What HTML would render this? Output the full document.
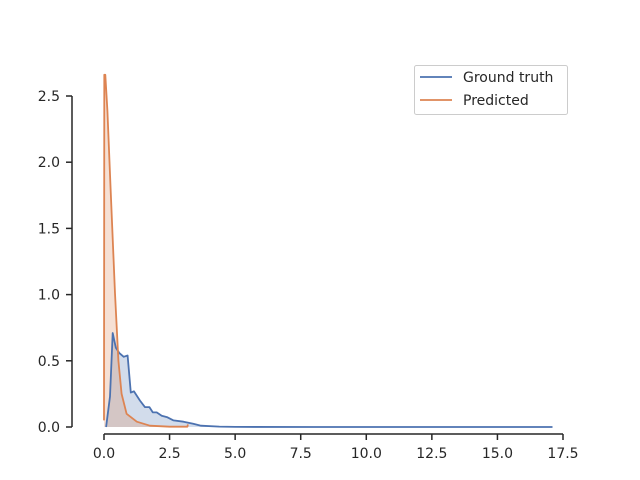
<!DOCTYPE html>
<html><head><meta charset="utf-8"><style>
body{margin:0;background:#fff}
svg{display:block;font-family:"DejaVu Sans","Liberation Sans",sans-serif}
</style></head><body>
<svg id="chart" width="640" height="480" xmlns="http://www.w3.org/2000/svg">
<g id="fills"></g>
<g id="lines"></g>
<g id="axes"></g>
<g>
<rect x="414.5" y="65.5" width="153" height="49" rx="2" fill="#fff" fill-opacity="0.8" stroke="#ccc"/>
<line x1="420" y1="77" x2="452" y2="77" stroke="#4c72b0" stroke-width="1.8"/>
<text x="463" y="82" font-size="14" fill="#262626">Ground truth</text>
<line x1="420" y1="100" x2="452" y2="100" stroke="#dd8452" stroke-width="1.8"/>
<text x="463" y="105" font-size="14" fill="#262626">Predicted</text>
</g>
</svg>
<script>
const truthX=[0.08,0.23,0.33,0.45,0.58,0.75,0.9,1.02,1.14,1.37,1.56,1.73,1.86,2.01,2.2,2.4,2.65,3.03,3.4,3.7,4.4,5,8,12,17.1];
const truthY=[0,0.23,0.71,0.6,0.56,0.53,0.54,0.26,0.27,0.2,0.15,0.15,0.11,0.11,0.085,0.075,0.05,0.04,0.025,0.01,0.003,0.001,0,0,0];
const predX=[0.0,0.01,0.05,0.13,0.25,0.42,0.55,0.67,0.86,1.25,1.75,2.5,3.18,3.2];
const predY=[0.05,2.66,2.66,2.39,1.8,1.01,0.5,0.25,0.1,0.04,0.01,0.002,0.002,0.02];
const xTicks=[0,2.5,5,7.5,10,12.5,15,17.5];
const xTickLabels=["0.0","2.5","5.0","7.5","10.0","12.5","15.0","17.5"];
const yTicks=[0,0.5,1,1.5,2,2.5];
const yTickLabels=["0.0","0.5","1.0","1.5","2.0","2.5"];
const sx=v=>104+v*(459/17.5);
const sy=v=>427-v*(331/2.5);
const NS="http://www.w3.org/2000/svg";
function mk(tag,attrs,parent){const e=document.createElementNS(NS,tag);for(const k in attrs)e.setAttribute(k,attrs[k]);parent.appendChild(e);return e;}
function series(xs,ys,color,name){
  let d=xs.map((x,i)=>(i?"L":"M")+sx(x).toFixed(1)+","+sy(ys[i]).toFixed(1)).join("");
  const f=mk("path",{d:d+"L"+sx(xs[xs.length-1])+","+sy(0)+"L"+sx(xs[0])+","+sy(0)+"Z",fill:color,"fill-opacity":0.25,stroke:"none"},document.getElementById("fills"));
  
  
  const l=mk("path",{d:d,fill:"none",stroke:color,"stroke-width":1.8,"stroke-linejoin":"round"},document.getElementById("lines"));
  
  
}
series(truthX,truthY,"#4c72b0","ground-truth");
series(predX,predY,"#dd8452","predicted");
const ax=document.getElementById("axes");
const ys=mk("line",{x1:72,x2:72,y1:sy(2.5),y2:sy(0),stroke:"#262626","stroke-width":1.5},ax);


const xs=mk("line",{x1:sx(0),x2:sx(17.5),y1:434,y2:434,stroke:"#262626","stroke-width":1.5},ax);


yTicks.forEach((v,i)=>{
  mk("line",{x1:66,x2:72,y1:sy(v),y2:sy(v),stroke:"#262626","stroke-width":1.5},ax);
  const t=mk("text",{x:60,y:sy(v)+5,"text-anchor":"end","font-size":14,fill:"#262626"},ax);
  t.textContent=yTickLabels[i];
  
  
});
xTicks.forEach((v,i)=>{
  mk("line",{x1:sx(v),x2:sx(v),y1:434,y2:440,stroke:"#262626","stroke-width":1.5},ax);
  const t=mk("text",{x:sx(v),y:458,"text-anchor":"middle","font-size":14,fill:"#262626"},ax);
  t.textContent=xTickLabels[i];
  
  
});
</script>
</body></html>
